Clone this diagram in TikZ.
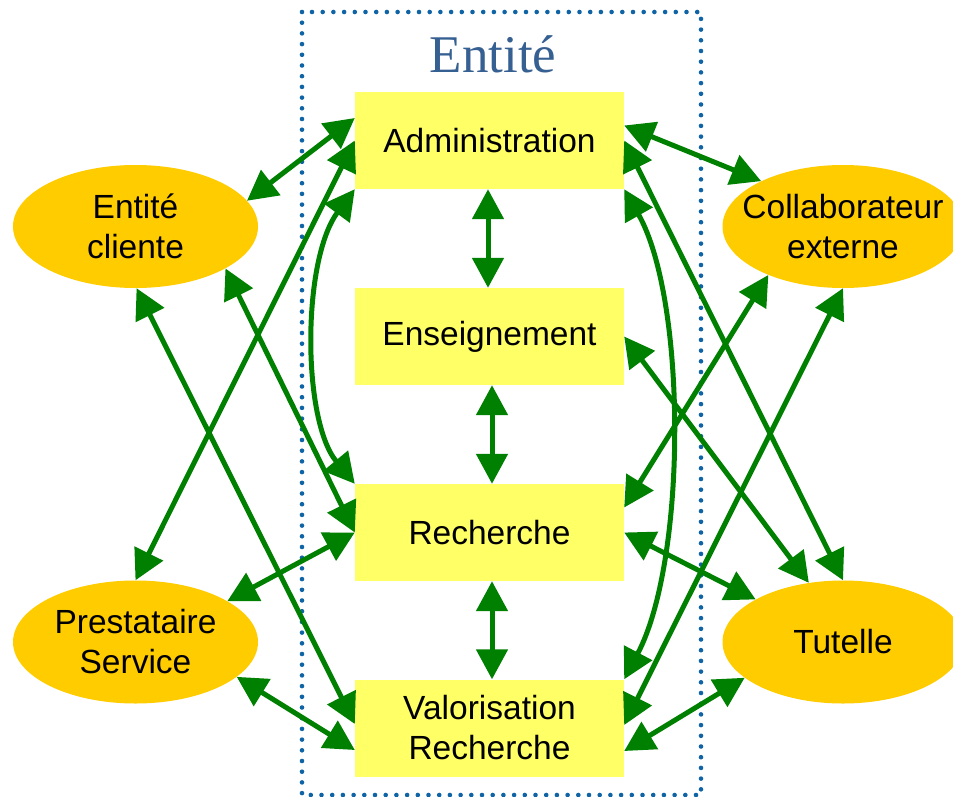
\documentclass[tikz,border=0pt]{standalone}
\usepackage{fontspec}
\setmainfont{Liberation Sans}
\newfontfamily\serifttl{Liberation Serif}
\usetikzlibrary{arrows.meta,shapes.geometric}
\definecolor{boxyellow}{HTML}{FFFF66}
\definecolor{ellorange}{HTML}{FFCC00}
\definecolor{arrgreen}{HTML}{008000}
\definecolor{frameblue}{HTML}{0F64A6}
\definecolor{titleblue}{HTML}{376092}
\tikzset{
  boxnode/.style={rectangle, fill=boxyellow, minimum width=269pt, minimum height=97pt,
    inner sep=0pt, align=center, text=black, font=\fontsize{33.5}{40}\selectfont},
  ellnode/.style={ellipse, fill=ellorange, minimum width=245pt, minimum height=123pt,
    inner sep=0pt, align=center, text=black, font=\fontsize{33.5}{40}\selectfont},
  elltext/.style={inner sep=0pt, align=center, text=black, font=\fontsize{33.5}{40}\selectfont},
  biarrow/.style={draw=arrgreen, line width=5pt,
    {Triangle[length=30pt,width=31pt]}-{Triangle[length=30pt,width=31pt]}},
  dotframe/.style={draw=frameblue, line width=4.6pt, line cap=round,
    dash pattern=on 0pt off 10.7pt},
  titlenode/.style={inner sep=0pt, text=titleblue, font=\serifttl\fontsize{53}{60}\selectfont}
}
\begin{document}
\begin{tikzpicture}[x=1pt,y=-1pt]
\useasboundingbox (0,0) rectangle (953,797);
\fill[white] (0,0) rectangle (953,797);
% frame
\draw[dotframe] (302,12) rectangle (701,795);
\node[titlenode, anchor=base] (ttl) at (493,73) {Entité};
% central boxes
\node[boxnode] (admin) at (489.5,140.5) {Administration};
\node[boxnode] (ens) at (489.5,336.5) {Enseignement};
\node[boxnode] (rech) at (489.5,532.5) {Recherche};
\node[boxnode] (valo) at (489.5,728) {Valorisation\\Recherche};
% ellipses
\node[ellnode] (cli) at (135.5,226.5) {Entité\\cliente};
\node[ellnode] (pres) at (135.5,642) {Prestataire\\Service};
\node[ellnode, minimum width=241pt] (col) at (843,226.5) {};
\node[elltext] (colt) at (col.center) {Collaborateur\\externe};
\node[ellnode, minimum width=241pt] (tut) at (843,642) {Tutelle};
% vertical arrows
\draw[biarrow] ([xshift=-1.5pt]admin.south) -- ([xshift=-1.5pt]ens.north);
\draw[biarrow] ([xshift=2.5pt]ens.south) -- ([xshift=2.5pt]rech.north);
\draw[biarrow] ([xshift=2.5pt]rech.south) -- ([xshift=2.5pt]valo.north);
% left side
\draw[biarrow] ([yshift=22.5pt]admin.west) -- (cli.13);
\draw[biarrow] (admin.west) -- (pres.north);
\draw[biarrow] (admin.south west) .. controls (302,260) and (302,420) .. (rech.north west);
\draw[biarrow] (cli.-25) -- (rech.west);
\draw[biarrow] (cli.-89) -- ([yshift=4pt]valo.west);
\draw[biarrow] (pres.24) -- (rech.west);
\draw[biarrow] (pres.-19.4) -- ([yshift=-22pt]valo.west);
% right side
\draw[biarrow] ([yshift=15pt]admin.east) -- (col.151.3);
\draw[biarrow] (admin.east) -- (tut.north);
\draw[biarrow] (admin.south east) .. controls (687,300) and (687,560) .. (valo.north east);
\draw[biarrow] (ens.east) -- (tut.120.8);
\draw[biarrow] ([yshift=25pt]rech.east) -- (col.213.1);
\draw[biarrow] (rech.east) -- (tut.154.5);
\draw[biarrow] ([yshift=3pt]valo.east) -- (col.south);
\draw[biarrow] ([yshift=-23pt]valo.east) -- (tut.200.7);
\end{tikzpicture}
\end{document}
